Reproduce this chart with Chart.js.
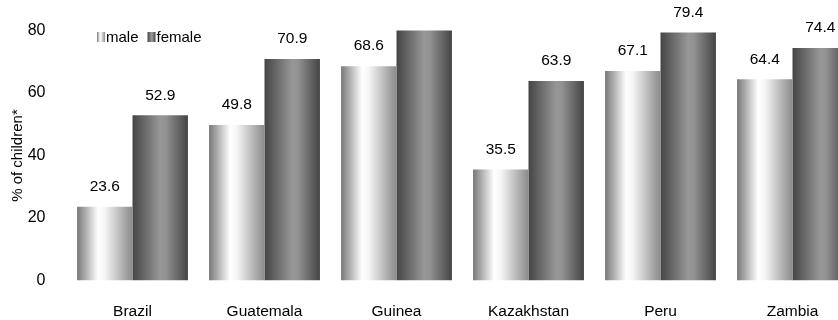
<!DOCTYPE html>
<html>
<head>
<meta charset="utf-8">
<script src="https://cdn.jsdelivr.net/npm/chart.js@4/dist/chart.umd.min.js"></script>
<style>
  html, body { margin: 0; padding: 0; background: #fff; overflow: hidden; }
  #wrap { position: relative; width: 860px; height: 320px; }
</style>
</head>
<body>
<div id="wrap"><canvas id="chart"></canvas></div>
<script>
// Share of children by country and sex
const countries = ['Brazil', 'Guatemala', 'Guinea', 'Kazakhstan', 'Peru', 'Zambia'];
const maleValues = [23.6, 49.8, 68.6, 35.5, 67.1, 64.4];
const femaleValues = [52.9, 70.9, 83.0, 63.9, 79.4, 74.4];
const yTicks = [0, 20, 40, 60, 80];

const FONT = 'Arial, "Liberation Sans", sans-serif';
const CAT_PCT = 0.84;

// Cylinder-like horizontal shading for each series
const maleStops = [[0, '#787878'], [0.38, '#ffffff'], [0.5, '#f6f6f6'], [1, '#8a8a8a']];
const femaleStops = [[0, '#454545'], [0.5, '#979797'], [0.6, '#929292'], [1, '#444444']];

function shade(ctx, x0, x1, stops) {
  const g = ctx.createLinearGradient(x0, 0, x1, 0);
  stops.forEach(([p, c]) => g.addColorStop(p, c));
  return g;
}

function barFill(stops, side) {
  return (c) => {
    const chart = c.chart;
    const xs = chart.scales.x;
    if (!chart.chartArea || !xs || c.dataIndex === undefined) return stops[1][1];
    const center = xs.getPixelForValue(c.dataIndex);
    const catW = xs.width / countries.length * CAT_PCT;
    const x0 = side === 0 ? center - catW / 2 : center;
    return shade(chart.ctx, x0, x0 + catW / 2, stops);
  };
}

// Value labels above bars (skipped when a bar runs past the axis maximum)
const valueLabels = {
  id: 'valueLabels',
  afterDatasetsDraw(chart) {
    const ctx = chart.ctx;
    const max = chart.scales.y.max;
    ctx.save();
    ctx.font = '15.5px ' + FONT;
    ctx.fillStyle = '#000';
    ctx.textAlign = 'center';
    ctx.textBaseline = 'middle';
    chart.data.datasets.forEach((ds, i) => {
      chart.getDatasetMeta(i).data.forEach((el, j) => {
        const v = ds.data[j];
        if (v > max) return;
        ctx.fillText(v.toFixed(1), el.x, el.y - 20);
      });
    });
    ctx.restore();
  }
};

// Compact legend inside the plot area
const innerLegend = {
  id: 'innerLegend',
  afterDraw(chart) {
    const ctx = chart.ctx;
    ctx.save();
    ctx.font = '15px ' + FONT;
    ctx.fillStyle = '#000';
    ctx.textBaseline = 'alphabetic';
    let x = 97;
    const y = 42;
    [[ 'male', maleStops ], [ 'female', femaleStops ]].forEach(([label, stops]) => {
      ctx.fillStyle = shade(ctx, x, x + 8, stops);
      ctx.fillRect(x, y - 10, 8, 10);
      ctx.fillStyle = '#000';
      ctx.fillText(label, x + 9, y);
      x += 9 + ctx.measureText(label).width + 9;
    });
    ctx.restore();
  }
};

new Chart(document.getElementById('chart'), {
  type: 'bar',
  data: {
    labels: countries,
    datasets: [
      { label: 'male', data: maleValues, backgroundColor: barFill(maleStops, 0), borderWidth: 0 },
      { label: 'female', data: femaleValues, backgroundColor: barFill(femaleStops, 1), borderWidth: 0 }
    ]
  },
  options: {
    responsive: true,
    maintainAspectRatio: false,
    animation: false,
    events: [],
    layout: { padding: { top: 28, right: 1.5, bottom: 0, left: 0 } },
    datasets: { bar: { categoryPercentage: CAT_PCT, barPercentage: 1 } },
    plugins: { legend: { display: false }, tooltip: { enabled: false } },
    scales: {
      x: {
        grid: { display: false, drawTicks: false },
        border: { display: false },
        ticks: { color: '#000', font: { family: FONT, size: 15.5 }, padding: 22 },
        afterFit(s) { s.height = 39.5; }
      },
      y: {
        min: 0,
        max: 80,
        afterBuildTicks(s) { s.ticks = yTicks.map(v => ({ value: v })); },
        grid: { display: false, drawTicks: false },
        border: { display: false },
        ticks: { color: '#000', font: { family: FONT, size: 16 }, padding: 21 },
        title: {
          display: true,
          text: '% of children*',
          color: '#000',
          font: { family: FONT, size: 15 },
          padding: { top: 9, bottom: 0 }
        },
        afterFit(s) { s.width = 66.5; }
      }
    }
  },
  plugins: [valueLabels, innerLegend]
});
</script>
</body>
</html>
